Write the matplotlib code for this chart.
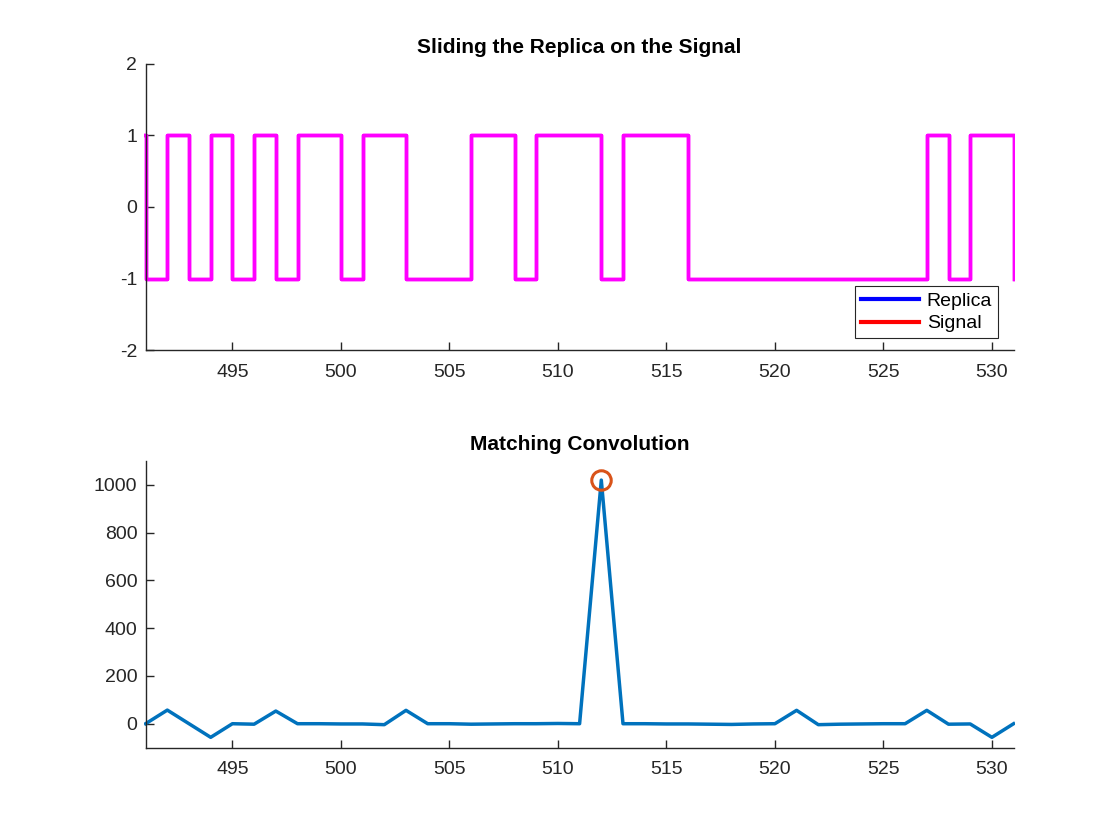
import matplotlib
matplotlib.use("Agg")
import matplotlib.pyplot as plt
from matplotlib.transforms import Bbox, TransformedBbox
import numpy as np

plt.rcParams['font.family'] = ['Liberation Sans', 'DejaVu Sans']
plt.rcParams['axes.unicode_minus'] = False

# ---- data ----
sig_x = list(range(490, 532))
sig_vals = [1, -1, 1, -1, 1, -1, 1, -1, 1, 1,
            -1, 1, 1, -1, -1, -1, 1, 1, -1, 1,
            1, 1, -1, 1, 1, 1, -1, -1, -1, -1,
            -1, -1, -1, -1, -1, -1, -1, 1, -1, 1,
            1, -1]
replica_vals = list(sig_vals)

conv_x = list(range(491, 532))
conv_vals = [0, 57, 0, -57, 0, -2, 53, 0, 0, -1,
             -1, -4, 56, 0, 0, -2, -1, 0, 0, 1,
             0, 1020, 0, 0, -1, -1, -2, -3, -1, 0,
             56, -4, -2, -1, 0, 0, 56, -2, -1, -57,
             0]
peak_idx = int(np.argmax(conv_vals))

top_title = "Sliding the Replica on the Signal"
bot_title = "Matching Convolution"
xticks = [495, 500, 505, 510, 515, 520, 525, 530]

axc = '#262626'
fig = plt.figure(figsize=(11.2, 8.4), dpi=100)
ax1 = fig.add_axes([0.13, 0.583, 0.775, 0.3412])
ax2 = fig.add_axes([0.13, 0.11, 0.775, 0.3412])

def style(ax):
    for s in ['top', 'right']:
        ax.spines[s].set_visible(False)
    for s in ['left', 'bottom']:
        ax.spines[s].set_color(axc)
        ax.spines[s].set_linewidth(1.0)
    ax.tick_params(direction='in', length=5.5, width=1.0, colors=axc,
                   labelsize=14)
    ax.tick_params(axis='x', pad=10)
    ax.tick_params(axis='y', pad=6)
    ax.set_xlim(491, 531)
    ax.set_xticks(xticks)

def loose_clip(line, ax, m=0.0018):
    line.set_clip_box(TransformedBbox(Bbox([[-m, -m], [1 + m, 1 + m]]), ax.transAxes))

l1, = ax1.step(sig_x, replica_vals, where='post', color='magenta', lw=2.5, label='Replica')
l2, = ax1.step(sig_x, sig_vals, where='post', color='magenta', lw=2.5, label='Signal')
ax1.set_ylim(-2, 2)
ax1.set_yticks([-2, -1, 0, 1, 2])
style(ax1)
loose_clip(l1, ax1)
loose_clip(l2, ax1)
ax1.set_title(top_title, fontsize=15, fontweight='bold', pad=8)
leg = ax1.legend(loc='lower right', bbox_to_anchor=(0.982, 0.042), fontsize=14,
                 frameon=True, fancybox=False, edgecolor=axc, framealpha=1,
                 handlelength=3.0, borderpad=0.3, labelspacing=0.25,
                 handletextpad=0.4, borderaxespad=0)
leg.get_frame().set_linewidth(0.8)
leg_lines = leg.get_lines()
leg_lines[0].set_color('blue')
leg_lines[1].set_color('red')
for ln in leg_lines:
    ln.set_linewidth(3)

l3, = ax2.plot(conv_x, conv_vals, color=(0, 0.447, 0.741), lw=2.5)
loose_clip(l3, ax2)
ax2.plot([conv_x[peak_idx]], [conv_vals[peak_idx]], 'o', ms=14, mfc='none',
         mec=(0.85, 0.325, 0.098), mew=2.2)
ax2.set_ylim(-100, 1100)
ax2.set_yticks([0, 200, 400, 600, 800, 1000])
style(ax2)
ax2.set_title(bot_title, fontsize=15, fontweight='bold', pad=8)

fig.savefig('out.png', dpi=100)
